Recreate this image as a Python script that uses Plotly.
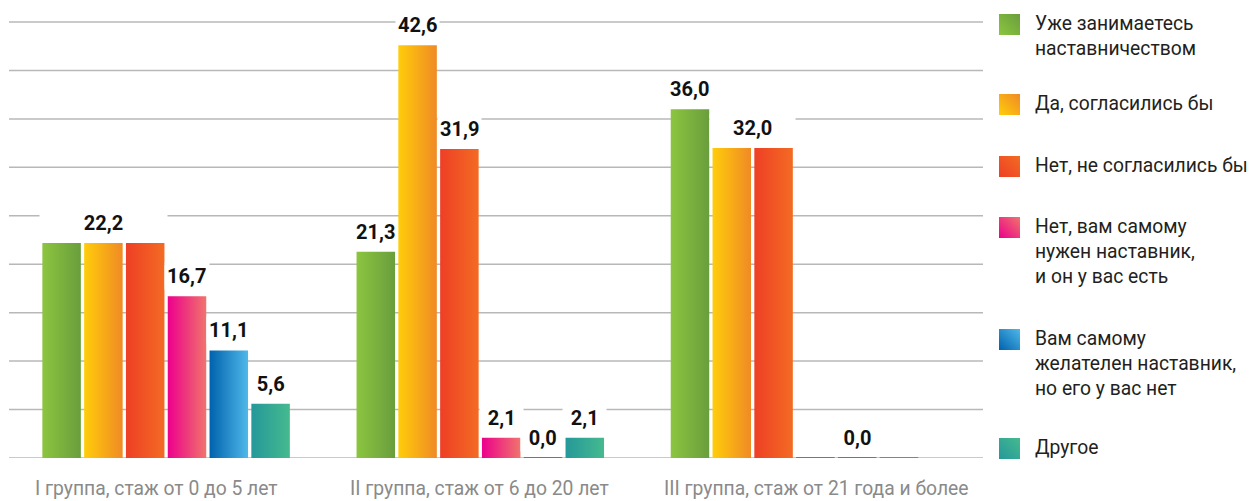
import base64
import plotly.graph_objects as go

# ---- data -------------------------------------------------------------
groups = [
    "I группа, стаж от 0 до 5 лет",
    "II группа, стаж от 6 до 20 лет",
    "III группа, стаж от 21 года и более",
]
series_names = [
    "Уже занимаетесь<br>наставничеством",
    "Да, согласились бы",
    "Нет, не согласились бы",
    "Нет, вам самому<br>нужен наставник,<br>и он у вас есть",
    "Вам самому<br>желателен наставник,<br>но его у вас нет",
    "Другое",
]
already_mentoring = [22.2, 21.3, 36.0]
would_agree = [22.2, 42.6, 32.0]
would_not_agree = [22.2, 31.9, 32.0]
need_mentor_have = [16.7, 2.1, 0.0]
want_mentor_none = [11.1, 0.0, 0.0]
other = [5.6, 2.1, 0.0]
series_values = [already_mentoring, would_agree, would_not_agree,
                 need_mentor_have, want_mentor_none, other]
grid_values = list(range(0, 50, 5))

# ---- styling ----------------------------------------------------------
gradients = [
    ("#8cc540", "#699e3c"),
    ("#ffcd0a", "#f08a25"),
    ("#ee3f25", "#f36b23"),
    ("#ec008c", "#f0746c"),
    ("#0062ad", "#50b8e9"),
    ("#25989a", "#45ba8e"),
]
mid_colors = ["#7ab23e", "#f7ab18", "#f05524", "#ee3a7c", "#258dcb", "#35a994"]

W, H = 1249, 501
M_L, M_R, M_T, M_B = 9, 266, 13, 43
plot_w = W - M_L - M_R
plot_h = H - M_T - M_B
X_RANGE = [-0.5, 2.6]
# top rule (45) sits 436 px above the baseline
Y_RANGE = [0, 45 * plot_h / 436]
px_per_x = plot_w / (X_RANGE[1] - X_RANGE[0])

BAR_PITCH = 41.8 / px_per_x     # distance between neighbouring bars in a group
BAR_WIDTH = 38.5 / px_per_x
BOX_PAD = 5                     # extra px of the white label box

FONT = "Roboto, 'Liberation Sans', Arial, sans-serif"
TEXT_SIZE = 19.3
GRID_COLOR = "#b8b8b8"


def bar_center(g, k):
    return g + (k - (len(series_values) - 1) / 2) * BAR_PITCH


def paper_x(px):
    return (px - M_L) / plot_w


def paper_y(py):
    return (H - M_B - py) / plot_h


def fmt(v):
    return f"{v:.1f}".replace(".", ",")


fig = go.Figure()

# bars as gradient-filled rectangles; empty bars show as a thin coloured rule
for k, vals in enumerate(series_values):
    c0, c1 = gradients[k]
    for g, v in enumerate(vals):
        xc = bar_center(g, k)
        x0, x1 = xc - BAR_WIDTH / 2, xc + BAR_WIDTH / 2
        if v == 0:
            fig.add_trace(go.Scatter(
                x=[x0, x1], y=[v, v], mode="lines",
                line=dict(width=2.2, color=mid_colors[k]),
                cliponaxis=False, hoverinfo="skip", showlegend=False,
            ))
            continue
        fig.add_trace(go.Scatter(
            x=[x0, x1, x1, x0, x0],
            y=[0, 0, v, v, 0],
            mode="lines",
            fill="toself",
            fillgradient=dict(type="horizontal", colorscale=[[0, c0], [1, c1]]),
            line=dict(width=0),
            hoverinfo="skip",
            showlegend=False,
        ))

# horizontal rules across the plot area
shapes = [
    dict(type="line", xref="paper", x0=0, x1=1, yref="y", y0=v, y1=v,
         line=dict(color=GRID_COLOR, width=1.5), layer="below")
    for v in grid_values
]

annotations = []

# value labels: one label per run of equal neighbouring values
for g in range(len(groups)):
    vals = [s[g] for s in series_values]
    k = 0
    while k < len(vals):
        j = k
        while j + 1 < len(vals) and vals[j + 1] == vals[k]:
            j += 1
        left = bar_center(g, k) - BAR_WIDTH / 2
        right = bar_center(g, j) + BAR_WIDTH / 2
        annotations.append(dict(
            x=(left + right) / 2, y=vals[k], xref="x", yref="y",
            text=f"<b>{fmt(vals[k])}</b>", showarrow=False,
            font=dict(family=FONT, size=20, color="#111111"),
            xanchor="center", yanchor="bottom", yshift=6,
            width=(right - left) * px_per_x + BOX_PAD, height=26,
            bgcolor="white", borderpad=0,
        ))
        k = j + 1

# category labels under each group
for g, name in enumerate(groups):
    annotations.append(dict(
        x=bar_center(g, 0) - BAR_WIDTH / 2 - 9 / px_per_x, y=0,
        xref="x", yref="paper", text=name, showarrow=False,
        font=dict(family=FONT, size=TEXT_SIZE, color="#8a8a8a"),
        xanchor="left", yanchor="top", yshift=-17,
    ))

# legend: gradient squares with labels
legend_tops = [14, 94, 156, 217, 329, 438]
SQ = 21
images = []
for k, name in enumerate(series_names):
    c0, c1 = gradients[k]
    svg = (
        f'<svg xmlns="http://www.w3.org/2000/svg" width="{SQ}" height="{SQ}">'
        '<defs><linearGradient id="g" x1="0" y1="1" x2="1" y2="0">'
        f'<stop offset="0" stop-color="{c0}"/><stop offset="1" stop-color="{c1}"/>'
        '</linearGradient></defs>'
        f'<rect width="{SQ}" height="{SQ}" fill="url(#g)"/></svg>'
    )
    src = "data:image/svg+xml;base64," + base64.b64encode(svg.encode()).decode()
    top = legend_tops[k]
    images.append(dict(
        source=src, xref="paper", yref="paper",
        x=paper_x(999), y=paper_y(top),
        sizex=SQ / plot_w, sizey=SQ / plot_h,
        xanchor="left", yanchor="top", sizing="stretch", layer="above",
    ))
    annotations.append(dict(
        x=paper_x(1033), y=paper_y(top - 4), xref="paper", yref="paper",
        text=name, showarrow=False, align="left",
        font=dict(family=FONT, size=TEXT_SIZE, color="#231f20"),
        xanchor="left", yanchor="top",
    ))

fig.update_layout(
    width=W, height=H,
    margin=dict(l=M_L, r=M_R, t=M_T, b=M_B, autoexpand=False),
    paper_bgcolor="white", plot_bgcolor="white",
    showlegend=False,
    xaxis=dict(range=X_RANGE, showgrid=False, zeroline=False,
               showticklabels=False, showline=False, fixedrange=True),
    yaxis=dict(range=Y_RANGE, showgrid=False, zeroline=False,
               showticklabels=False, showline=False, fixedrange=True),
    shapes=shapes,
    annotations=annotations,
    images=images,
)

fig.write_html("out.html", config={"displayModeBar": False})
